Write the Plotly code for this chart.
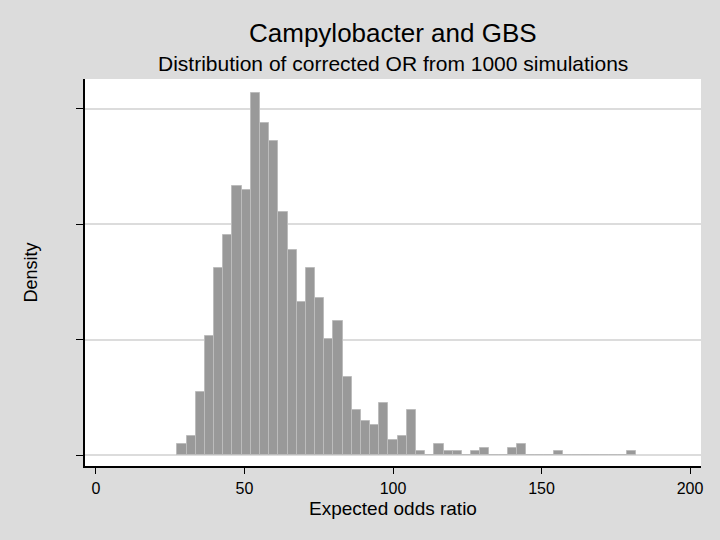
import plotly.graph_objects as go

# Histogram data (50 bins)
bin_start = 27.4
bin_width = 3.09
n_sims = 1000
counts = [3, 5, 17, 32, 50, 59, 72, 71, 97, 89,
          84, 65, 55, 41, 50, 42, 31, 36, 21, 12,
          9, 8, 14, 4, 5, 12, 1, 0, 3, 1,
          1, 0, 1, 2, 0, 0, 2, 3, 0, 0,
          0, 1, 0, 0, 0, 0, 0, 0, 0, 1]
x_ticks = [0, 50, 100, 150, 200]
y_ticks = [0, 0.01, 0.02, 0.03]

centers = [bin_start + (i + 0.5) * bin_width for i in range(len(counts))]
density = [c / (n_sims * bin_width) for c in counts]

FONT = "Liberation Sans, Arial, sans-serif"

# plot area in pixels
L, R, T, B = 85, 701, 79, 466
def px_x(x):
    return (x - L) / (R - L)
def px_y(y):
    return (B - y) / (B - T)

fig = go.Figure()
fig.add_trace(go.Bar(
    x=centers, y=density, width=[bin_width] * len(counts),
    marker=dict(color="#999999", line=dict(color="#bcbcbc", width=1)),
    hoverinfo="skip",
))

fig.update_layout(
    width=720, height=540,
    paper_bgcolor="#dcdcdc", plot_bgcolor="#ffffff",
    margin=dict(l=L, r=720 - R, t=T, b=540 - B),
    showlegend=False,
    bargap=0,
    font=dict(family=FONT, color="#000000"),
    xaxis=dict(
        range=[-3.7, 203.7], tickvals=x_ticks, ticks="outside", ticklen=6,
        tickcolor="#000000", showgrid=False, zeroline=False,
        showline=True, linecolor="#000000", linewidth=1.5,
        tickfont=dict(size=16, family=FONT), ticklabelstandoff=1,
    ),
    yaxis=dict(
        range=[-0.00095, 0.03258], tickvals=y_ticks, ticks="outside", ticklen=7,
        tickcolor="#000000", showticklabels=False,
        showgrid=True, gridcolor="#dcdcdc", gridwidth=2, zeroline=False,
        showline=True, linecolor="#000000", linewidth=1.5,
    ),
    annotations=[
        dict(text="Campylobacter and GBS", x=0.5, xref="paper", y=px_y(33), yref="paper",
             xanchor="center", yanchor="middle", showarrow=False, font=dict(size=26, family=FONT)),
        dict(text="Distribution of corrected OR from 1000 simulations", x=0.5, xref="paper",
             y=px_y(63), yref="paper", xanchor="center", yanchor="middle",
             showarrow=False, font=dict(size=21, family=FONT)),
        dict(text="Expected odds ratio", x=0.5, xref="paper", y=px_y(508), yref="paper",
             xanchor="center", yanchor="middle", showarrow=False, font=dict(size=19, family=FONT)),
        dict(text="Density", x=px_x(30), xref="paper", y=0.5, yref="paper",
             xanchor="center", yanchor="middle", textangle=-90, showarrow=False,
             font=dict(size=18, family=FONT)),
    ],
)

fig.write_html("out.html", config={"displayModeBar": False},
               post_script="document.body.style.margin='0';document.body.style.overflow='hidden';")
